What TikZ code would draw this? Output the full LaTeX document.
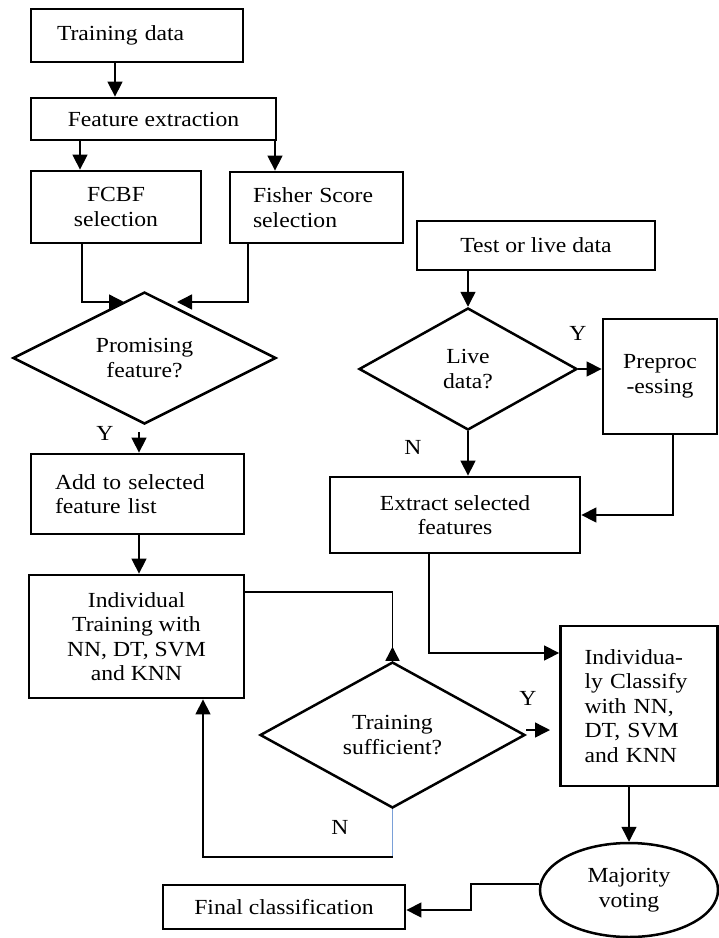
\documentclass[tikz,border=0pt]{standalone}
\usepackage{fontspec}
\setmainfont{Liberation Serif}[FakeStretch=1.1]
\usetikzlibrary{shapes.geometric,arrows.meta}
\definecolor{loopblue}{HTML}{7AA0D8}
\newcommand{\fs}{\fontsize{21.5}{24.5}\selectfont}
\begin{document}
\begin{tikzpicture}[x=1pt,y=-1pt,
  box/.style={draw, line width=2.8pt, inner sep=0pt, align=center, font=\fs},
  lbox/.style={box, align=left},
  dia/.style={diamond, draw, line width=2.5pt, inner sep=0pt, aspect=2, align=center, font=\fs},
  conn/.style={line width=1.4pt},
  arr/.style={conn, -{Triangle[length=15pt,width=15pt]}},
  lbl/.style={font=\fs, inner sep=0pt}]
\useasboundingbox (0,0) rectangle (719,938);

% nodes
\node[lbox, minimum width=212pt, minimum height=53pt, text width=160pt, inner xsep=26pt] (tdata) at (137,35.5) {Training data};
\node[box, minimum width=245pt, minimum height=42pt] (fext) at (153.5,119) {Feature extraction};
\node[box, minimum width=170pt, minimum height=72pt] (fcbf) at (116,207) {FCBF\\selection};
\node[lbox, minimum width=173pt, minimum height=71pt, text width=127pt, inner xsep=23pt] (fisher) at (316.5,207.5) {Fisher Score\\selection};
\node[dia, minimum width=263pt, minimum height=132pt] (prom) at (144.5,358) {Promising\\feature?};
\node[lbox, minimum width=213pt, minimum height=80pt, text width=165pt, inner xsep=24pt] (addsel) at (137.5,494) {Add to selected\\feature list};
\node[box, minimum width=215pt, minimum height=123pt] (itrain) at (136.5,636.5) {Individual\\Training with\\NN, DT, SVM\\and KNN};
\node[box, minimum width=238pt, minimum height=49pt] (test) at (536,245.5) {Test or live data};
\node[dia, minimum width=218pt, minimum height=122pt] (live) at (468,369) {Live\\data?};
\node[box, minimum width=114pt, minimum height=115pt] (prep) at (660,376.5) {Preproc\\-essing};
\node[box, minimum width=250pt, minimum height=76pt] (extract) at (455,515) {Extract selected\\features};
\node[dia, minimum width=265pt, minimum height=146pt] (tsuff) at (392.5,735) {Training\\sufficient?};
\node[lbox, minimum width=157pt, minimum height=160pt, text width=109pt, inner xsep=24pt] (classify) at (639,706) {Individua-\\ly Classify\\with NN,\\DT, SVM\\and KNN};
\node[ellipse, draw, line width=2.5pt, inner sep=0pt, minimum width=178pt, minimum height=94pt, align=center, font=\fs] (vote) at (629,890) {Majority\\voting};
\node[box, minimum width=242pt, minimum height=44pt] (final) at (284,907) {Final classification};

% labels
\node[lbl] (y1) at (105,433) {Y};
\node[lbl] (y2) at (578,333) {Y};
\node[lbl] (n1) at (413,447) {N};
\node[lbl] (y3) at (528,698) {Y};
\node[lbl] (n2) at (340,827) {N};

% guide coordinates
\coordinate (gx115) at (115,0);
\coordinate (gx80) at (80,0);
\coordinate (gx275) at (275,0);
\coordinate (gx82) at (82,0);
\coordinate (gx248) at (248,0);
\coordinate (gx139) at (139,0);
\coordinate (gx203) at (203,0);
\coordinate (gx673) at (673,0);
\coordinate (gx429) at (429,0);
\coordinate (gx471) at (471,0);
\coordinate (gy592) at (0,592);
\coordinate (gy857) at (0,857);
\coordinate (gy653) at (0,653);
\coordinate (gy730) at (0,730);
\coordinate (gy884) at (0,884);
\coordinate (gy910) at (0,910);
\coordinate (pL) at (124,302);
\coordinate (pR) at (177,302);
\coordinate (yEnd) at (550,730);

% connectors
\draw[arr] (tdata.south -| gx115) -- (fext.north -| gx115);
\draw[arr] (fext.south -| gx80) -- (fcbf.north -| gx80);
\draw[arr] (fext.south -| gx275) -- (fisher.north -| gx275);
\draw[arr] (fcbf.south -| gx82) |- (pL);
\draw[arr] (fisher.south -| gx248) |- (pR);
\draw[arr] ([yshift=-7pt]prom.south -| gx139) -- (addsel.north -| gx139);
\draw[arr] (addsel.south -| gx139) -- (itrain.north -| gx139);
\draw[conn, -{Triangle[length=14pt,width=14pt,reversed]}] (itrain.east |- gy592) -| (tsuff.north);
\draw[conn, loopblue] (tsuff.south) -- (tsuff.south |- gy857);
\draw[arr] (tsuff.south |- gy857) -| (itrain.south -| gx203);
\draw[arr] (tsuff.east |- gy730) -- (yEnd);
\draw[arr] (test.south -| live.north) -- (live.north);
\draw[arr] (live.east) -- (live.east -| prep.west);
\draw[arr] (live.south) -- (live.south |- extract.north);
\draw[arr] (prep.south -| gx673) |- (extract.east);
\draw[arr] (extract.south -| gx429) |- (classify.west |- gy653);
\draw[arr] (classify.south -| vote.north) -- (vote.north);
\draw[arr] (vote.west |- gy884) -- (gx471 |- gy884) -- (gx471 |- gy910) -- (final.east |- gy910);
\end{tikzpicture}
\end{document}
